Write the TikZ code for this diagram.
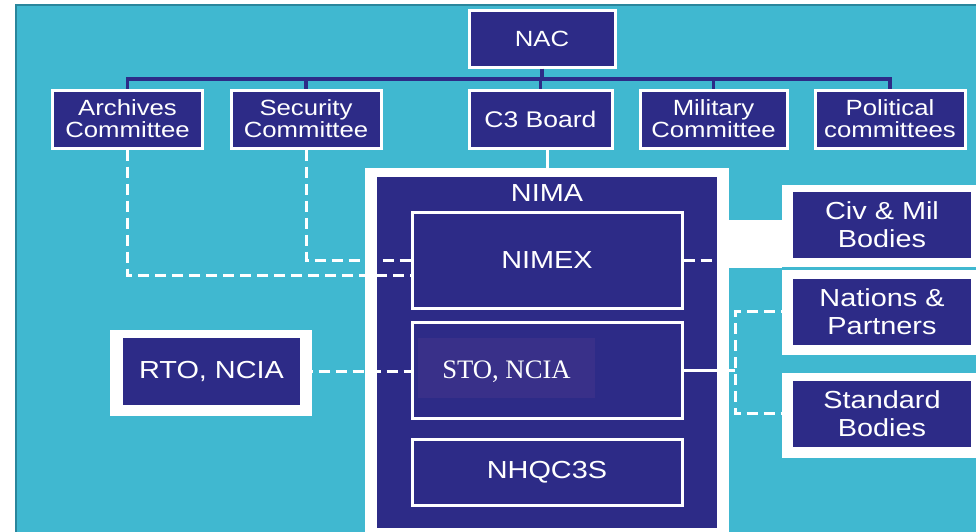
\documentclass[tikz,border=0pt]{standalone}
\usepackage{fontspec}
\newfontfamily\boxfont{Liberation Sans}[FakeStretch=1.17]
\newfontfamily\stofont{Liberation Serif}
\usepackage{tikz}
\usetikzlibrary{calc}
\definecolor{NavyBox}{RGB}{45,43,135}
\definecolor{NavyPatch}{RGB}{57,48,137}
\definecolor{TealBack}{RGB}{64,184,208}
\definecolor{TealEdge}{RGB}{42,134,156}

\begin{document}
\begin{tikzpicture}[x=0.75pt,y=0.75pt,yscale=-1,xscale=1,
  box/.style={draw=white,fill=NavyBox,line width=2.25pt,text=white,align=center,inner sep=0pt,font=\boxfont\fontsize{18.5}{21}\selectfont},
  smallbox/.style={box,font=\boxfont\fontsize{16.5}{16.5}\selectfont,minimum width=112.5pt,minimum height=43.5pt},
  sidebox/.style={box,draw=none,minimum width=133.5pt,minimum height=49.5pt},
  link/.style={draw=white,line width=2.25pt,dash pattern=on 8.25pt off 4.5pt},
  solidlink/.style={draw=white,line width=2.25pt},
  bus/.style={draw=NavyBox,line width=2.5pt}]
\useasboundingbox (0,0) rectangle (976,532);

%Shape: Rectangle (background)
\fill[white] (0,0) rectangle (976,532);
\fill[TealBack] (16,5) rectangle (976,532);
\draw[TealEdge,line width=1.5pt] (16,532) -- (16,5) -- (976,5);

%Shape: Rectangle (white frames)
\fill[white] (365,168) rectangle (729,532);
\fill[white] (729,220) rectangle (782,268);
\fill[white] (782,185) rectangle (976,267);
\fill[white] (782,270) rectangle (976,355);
\fill[white] (782,373) rectangle (976,458);
\fill[white] (110,330) rectangle (312,416);

% Text Node
\node (nac) [box,minimum width=109.5pt,minimum height=42.75pt,font=\boxfont\fontsize{16.5}{16.5}\selectfont] at (542,38.5) {NAC};
% Text Node
\node (arch) [smallbox] at (127.5,119) {Archives\\Committee};
% Text Node
\node (sec) [smallbox] at (306,119) {Security\\Committee};
% Text Node
\node (c3) [smallbox,minimum width=107.25pt,font=\boxfont\fontsize{17}{17}\selectfont] at (540.5,119) {C3 Board};
% Text Node
\node (mil) [smallbox,minimum width=110.25pt] at (713.5,119) {Military\\Committee};
% Text Node
\node (pol) [smallbox] at (890,119) {Political\\committees};

% Text Node
\node (nima) [fill=NavyBox,minimum width=255pt,minimum height=263.25pt,inner sep=0pt] at (547,352.5) {};
\node (nimat) [text=white,font=\boxfont\fontsize{18.5}{21}\selectfont] at (547,193) {NIMA};
% Text Node
\node (nimex) [box,minimum width=202.5pt,minimum height=72pt] at (547,260) {NIMEX};
% Text Node
\node (sto) [box,minimum width=202.5pt,minimum height=72pt] at (547,370) {};
\fill[NavyPatch] (418,338) rectangle (595,398);
\node (stotext) [text=white,inner sep=0pt,font=\stofont\fontsize{20}{20}\selectfont] at (506.5,372) {STO, NCIA};
% Text Node
\node (nhq) [box,minimum width=202.5pt,minimum height=49.5pt] at (547,472) {NHQC3S};

% Text Node
\node (rto) [sidebox,minimum width=132.75pt,minimum height=50.25pt] at (211.5,371.5) {RTO, NCIA};
% Text Node
\node (civ) [sidebox] at (882,225) {Civ \& Mil\\Bodies};
% Text Node
\node (nat) [sidebox] at (882,311.5) {Nations \&\\Partners};
% Text Node
\node (std) [sidebox] at (882,413.5) {Standard\\Bodies};

%Straight Lines (bus)
\coordinate (busy) at (0,79);
\draw[bus] (nac.south) -- (nac.south |- busy);
\draw[bus] (arch.north) -- (arch.north |- busy) -| (pol.north);
\foreach \n in {sec,c3,mil}
  \draw[bus] (\n.north) -- (\n.north |- busy);

%Straight Lines (links)
\draw[solidlink] (nima.north |- c3.south) -- (nima.north);
\draw[link] (arch.south) |- ([yshift=11.25pt]nimex.west);
\draw[link] (sec.south) |- (nimex.west);
\draw[link] (rto.east) -- (rto.east -| sto.west);
\draw[link] (nimex.east) -- (nimex.east -| civ.west);
\coordinate (brk) at (735,370);
\draw[solidlink] (sto.east) -- (brk);
\draw[link] (nat.west) -| (brk) |- (std.west);

\end{tikzpicture}
\end{document}
